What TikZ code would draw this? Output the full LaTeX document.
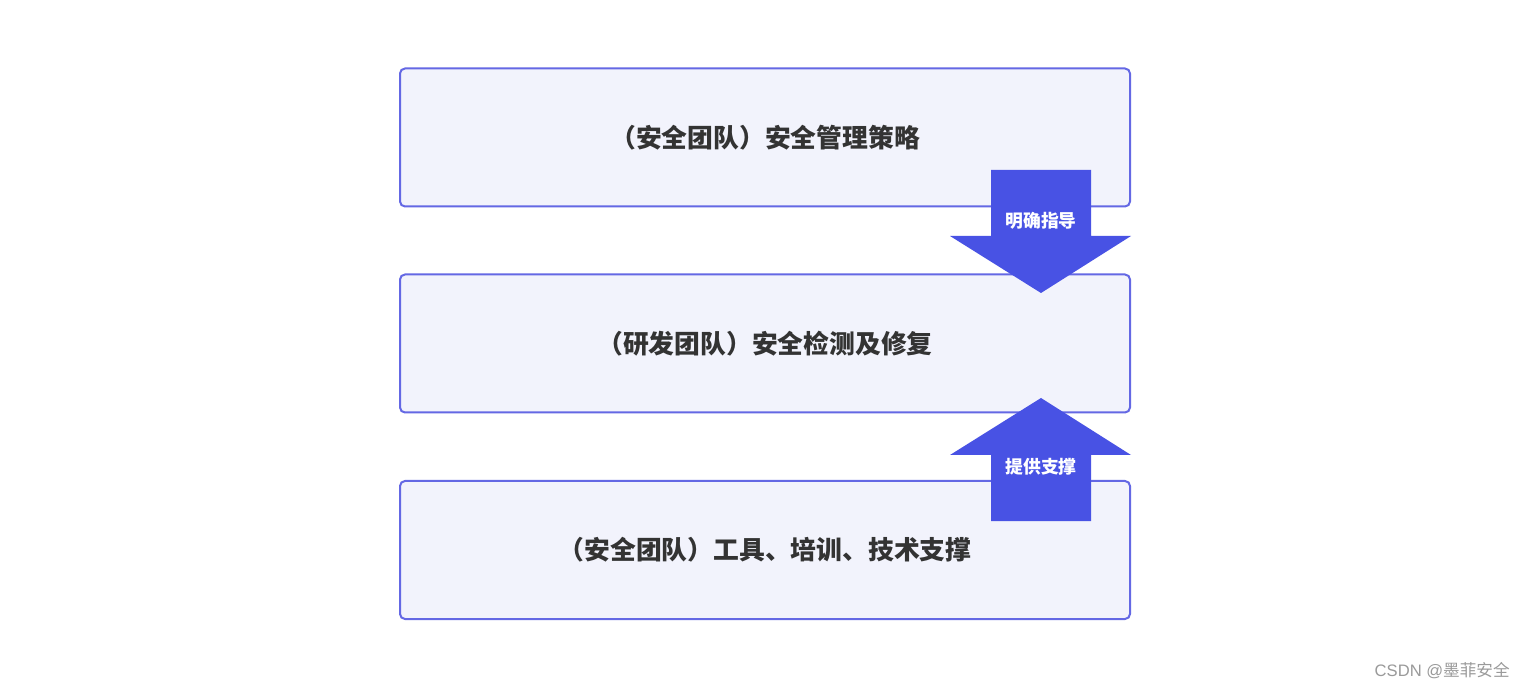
\documentclass[tikz,border=0pt]{standalone}
\usepackage{fontspec}
\setmainfont{Liberation Sans}
\newfontfamily\cjk{Noto Sans CJK SC}
\usetikzlibrary{calc}

\definecolor{boxline}{HTML}{6468E4}
\definecolor{boxfill}{HTML}{F2F3FC}
\definecolor{arrowfill}{HTML}{4852E4}
\definecolor{textdark}{HTML}{333333}
\definecolor{markgray}{HTML}{9A9A9A}

\tikzset{
    layer/.style={draw=boxline, fill=boxfill, line width=1pt, rounded corners=2.5pt,
        minimum width=365pt, minimum height=69pt, inner sep=0pt,
        font=\cjk\bfseries\fontsize{12.9pt}{14pt}\selectfont, text=textdark},
    flowlabel/.style={font=\cjk\bfseries\fontsize{8.9pt}{10pt}\selectfont, text=white, inner sep=0pt}
}

\begin{document}
\begin{tikzpicture}[x=0.5pt,y=-0.5pt]
        \useasboundingbox[fill=white] (0,0) rectangle (1526,689);
        \node[layer] (policy) at (765,137.5) {（安全团队）安全管理策略};
        \node[layer] (devfix) at (765,343.5) {（研发团队）安全检测及修复};
        \node[layer] (support) at (765,550) {（安全团队）工具、培训、技术支撑};
        \fill[arrowfill] (991,170) -- (1091,170) -- (1091,236) -- (1131,236) -- (1041,293) -- (950,236) -- (991,236) -- cycle;
        \fill[arrowfill] (991,521) -- (1091,521) -- (1091,455) -- (1131,455) -- (1041,398) -- (950,455) -- (991,455) -- cycle;
        \node[flowlabel] (guide) at (1041,221) {明确指导};
        \node[flowlabel] (backup) at (1041,467) {提供支撑};
        \node[anchor=east, inner sep=0pt, text=markgray, font=\fontsize{8.3pt}{10pt}\selectfont] (mark) at (1510,671) {CSDN @{\cjk 墨菲安全}};
    \end{tikzpicture}
\end{document}
